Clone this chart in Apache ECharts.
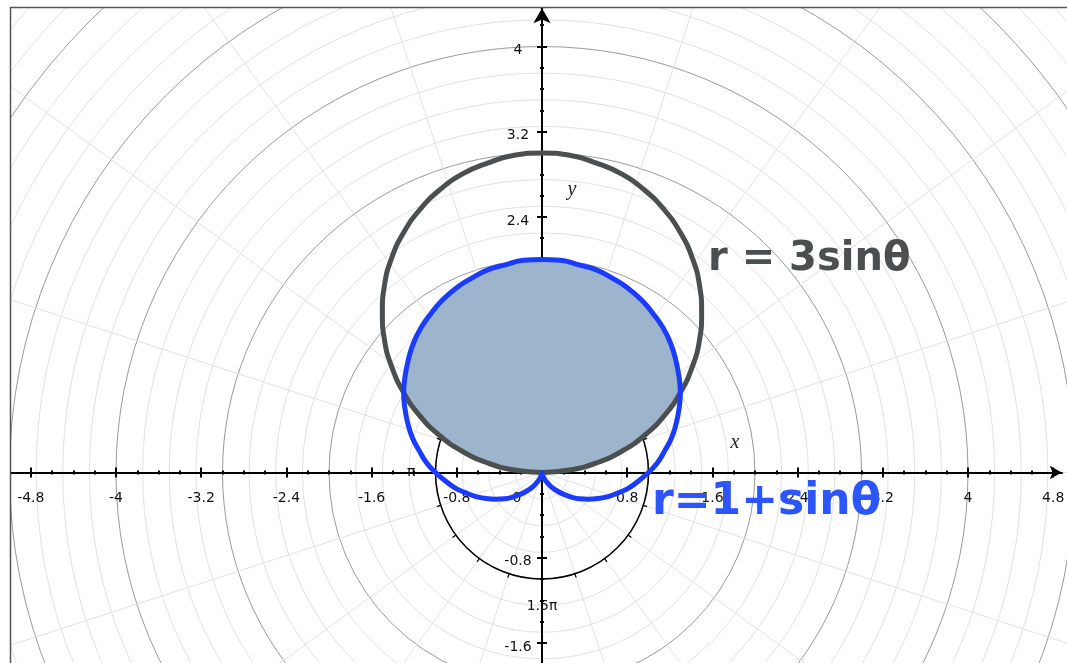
<!DOCTYPE html>
<html>
<head>
<meta charset="utf-8">
<script src="https://cdn.jsdelivr.net/npm/echarts@6/dist/echarts.min.js"></script>
<style>
    html, body { margin: 0; padding: 0; background: #fff; }
    #main { width: 1067px; height: 663px; }
</style>
</head>
<body>
<div id="main"></div>
<script>
// polar angle samples (degrees), every 5
var angles = [0, 5, 10, 15, 20, 25, 30, 35, 40, 45, 50, 55, 60, 65, 70, 75, 80, 85, 90,
    95, 100, 105, 110, 115, 120, 125, 130, 135, 140, 145, 150, 155, 160, 165, 170, 175, 180,
    185, 190, 195, 200, 205, 210, 215, 220, 225, 230, 235, 240, 245, 250, 255, 260, 265, 270,
    275, 280, 285, 290, 295, 300, 305, 310, 315, 320, 325, 330, 335, 340, 345, 350, 355, 360];
// r = 3sin(theta), 0..180
var circleR = [0, 0.26, 0.52, 0.78, 1.03, 1.27, 1.50, 1.72, 1.93, 2.12, 2.30, 2.46, 2.60, 2.72, 2.82, 2.90, 2.95, 2.99, 3.00,
    2.99, 2.95, 2.90, 2.82, 2.72, 2.60, 2.46, 2.30, 2.12, 1.93, 1.72, 1.50, 1.27, 1.03, 0.78, 0.52, 0.26, 0];
// r = 1 + sin(theta), 0..360
var cardioidR = [1.00, 1.09, 1.17, 1.26, 1.34, 1.42, 1.50, 1.57, 1.64, 1.71, 1.77, 1.82, 1.87, 1.91, 1.94, 1.97, 1.98, 2.00, 2.00,
    2.00, 1.98, 1.97, 1.94, 1.91, 1.87, 1.82, 1.77, 1.71, 1.64, 1.57, 1.50, 1.42, 1.34, 1.26, 1.17, 1.09, 1.00,
    0.91, 0.83, 0.74, 0.66, 0.58, 0.50, 0.43, 0.36, 0.29, 0.23, 0.18, 0.13, 0.09, 0.06, 0.03, 0.015, 0.004, 0,
    0.004, 0.015, 0.03, 0.06, 0.09, 0.13, 0.18, 0.23, 0.29, 0.36, 0.43, 0.50, 0.58, 0.66, 0.74, 0.83, 0.91, 1.00];
// shaded region (inside both curves), 0..180
var shadedR = [0, 0.26, 0.52, 0.78, 1.03, 1.27, 1.50, 1.57, 1.64, 1.71, 1.77, 1.82, 1.87, 1.91, 1.94, 1.97, 1.98, 2.00, 2.00,
    2.00, 1.98, 1.97, 1.94, 1.91, 1.87, 1.82, 1.77, 1.71, 1.64, 1.57, 1.50, 1.27, 1.03, 0.78, 0.52, 0.26, 0];

// axis ticks / labels
var xLabels = [-4.8, -4, -3.2, -2.4, -1.6, -0.8, 0, 0.8, 1.6, 2.4, 3.2, 4, 4.8];
var yLabels = [-1.6, -0.8, 0.8, 1.6, 2.4, 3.2, 4];
var angleMarks = [90, 180, 270];
var angleNames = ['0.5π', 'π', '1.5π'];

// layout
var s = 106.5;          // px per unit
var ox = 542, oy = 472.5;
var xMin = -5.6, xMax = 4.88, yMin = -2.4, yMax = 4.36;

var chartDom = document.getElementById('main');
var myChart = echarts.init(chartDom);

function pairs(rs) {
    return rs.map(function (r, i) { return [r, angles[i]]; });
}
function fmt(v) {
    return String(+(+v).toFixed(1));
}
function inList(list, v) {
    return list.some(function (t) { return Math.abs(t - v) < 1e-6; });
}

var labelText = { color: '#111', fontSize: 14, fontFamily: 'DejaVu Sans' };

// grid 0 carries the x axis on its bottom edge, grid 1 the y axis on its left edge
function xAxisDef(inside) {
    return {
        type: 'value', gridIndex: 0, position: 'bottom',
        min: xMin, max: xMax, interval: 0.8, z: 1,
        axisLine: {
            onZero: false,
            lineStyle: { color: '#000', width: 2 },
            symbol: inside ? 'none' : ['none', 'arrow'],
            symbolSize: [10, 12],
            symbolOffset: [0, 0]
        },
        axisTick: { show: true, inside: inside, length: 5, customValues: xLabels, lineStyle: { color: '#000', width: 2 } },
        minorTick: { show: true, splitNumber: 4, length: 2, lineStyle: { color: '#000', width: 2 } },
        splitLine: { show: false },
        axisLabel: {
            show: !inside,
            margin: 19,
            color: labelText.color, fontSize: labelText.fontSize, fontFamily: labelText.fontFamily,
            formatter: function (v) {
                if (!inList(xLabels, v)) return '';
                if (Math.abs(v) < 1e-9) return '{o|0}';
                return fmt(v);
            },
            rich: {
                // the origin label sits left of the y axis
                o: Object.assign({ padding: [0, 50, 0, 0] }, labelText)
            }
        }
    };
}

function yAxisDef(inside) {
    return {
        type: 'value', gridIndex: 1, position: 'left',
        min: yMin, max: yMax, interval: 0.8, z: 1,
        axisLine: {
            onZero: false,
            lineStyle: { color: '#000', width: 2 },
            symbol: inside ? 'none' : ['none', 'arrow'],
            symbolSize: [13, 15],
            symbolOffset: [0, 0]
        },
        axisTick: { show: true, inside: inside, length: 5, customValues: yLabels, lineStyle: { color: '#000', width: 2 } },
        minorTick: { show: true, splitNumber: 4, length: 2, lineStyle: { color: '#000', width: 2 } },
        splitLine: { show: false },
        axisLabel: {
            show: !inside,
            margin: 24,
            align: 'center',
            color: labelText.color, fontSize: labelText.fontSize, fontFamily: labelText.fontFamily,
            formatter: function (v) { return inList(yLabels, v) ? '{v|' + fmt(v) + '}' : ''; },
            rich: {
                v: Object.assign({ padding: [8, 0, 0, 0] }, labelText)
            }
        }
    };
}

var hiddenAxis = { type: 'value', min: 0, max: 1, show: false };

var option = {
    animation: false,
    backgroundColor: '#fff',
    grid: [{
        left: ox + xMin * s,
        width: (xMax - xMin) * s,
        top: oy - 100,
        height: 100,
        outerBoundsMode: 'none'
    }, {
        left: ox,
        width: 100,
        top: oy - yMax * s,
        height: (yMax - yMin) * s,
        outerBoundsMode: 'none'
    }],
    xAxis: [xAxisDef(false), xAxisDef(true), Object.assign({ gridIndex: 1 }, hiddenAxis)],
    yAxis: [Object.assign({ gridIndex: 0 }, hiddenAxis), yAxisDef(false), yAxisDef(true)],
    polar: [
        { center: [ox, oy], radius: 7 * s },
        { center: [ox, oy], radius: 1 * s }
    ],
    angleAxis: [{
        polarIndex: 0, type: 'value', min: 0, max: 360, interval: 18,
        startAngle: 0, clockwise: false, z: 0,
        axisLine: { show: false }, axisTick: { show: false }, axisLabel: { show: false },
        splitLine: { show: true, lineStyle: { color: '#e2e2e2', width: 1 } }
    }, {
        polarIndex: 1, type: 'value', min: 0, max: 360, interval: 18,
        startAngle: 0, clockwise: false, z: 1,
        axisLine: { show: true, lineStyle: { color: '#000', width: 1.5 } },
        axisTick: { show: true, length: 4, lineStyle: { color: '#000', width: 1.2 } },
        axisLabel: {
            show: true, margin: 20,
            color: labelText.color, fontSize: labelText.fontSize, fontFamily: labelText.fontFamily,
            formatter: function (v) {
                var k = angleMarks.indexOf(Math.round(v));
                return k < 0 ? '' : angleNames[k];
            }
        },
        splitLine: { show: false }
    }],
    radiusAxis: [{
        polarIndex: 0, type: 'value', min: 0, max: 7, interval: 0.25, z: 0,
        axisLine: { show: false }, axisTick: { show: false }, axisLabel: { show: false },
        splitLine: { show: true, lineStyle: { color: ['#9a9a9a', '#e2e2e2', '#e2e2e2', '#e2e2e2'], width: 1 } }
    }, {
        polarIndex: 1, type: 'value', min: 0, max: 1,
        axisLine: { show: false }, axisTick: { show: false }, axisLabel: { show: false },
        splitLine: { show: false }
    }],
    series: [{
        name: 'shaded',
        type: 'line', coordinateSystem: 'polar', polarIndex: 0,
        data: pairs(shadedR),
        smooth: true, symbol: 'none', silent: true, z: 10,
        lineStyle: { color: '#ffffff', width: 2 },
        areaStyle: { color: '#9db5cc', opacity: 1 }
    }, {
        name: 'r = 3sinθ',
        type: 'line', coordinateSystem: 'polar', polarIndex: 0,
        data: pairs(circleR),
        smooth: true, symbol: 'none', silent: true, z: 11,
        lineStyle: { color: '#4b4f4f', width: 5 }
    }, {
        name: 'r = 1+sinθ',
        type: 'line', coordinateSystem: 'polar', polarIndex: 0,
        data: pairs(cardioidR),
        smooth: true, symbol: 'none', silent: true, z: 12,
        lineStyle: { color: '#1b3cff', width: 5 }
    }],
    graphic: [
        // margins outside the frame
        { type: 'rect', z: 100, shape: { x: 0, y: 0, width: 10, height: 663 }, style: { fill: '#fff' } },
        { type: 'rect', z: 100, shape: { x: 0, y: 0, width: 1067, height: 7 }, style: { fill: '#fff' } },
        { type: 'line', z: 101, shape: { x1: 10, y1: 7.5, x2: 1067, y2: 7.5 }, style: { stroke: '#555', lineWidth: 1.5 } },
        { type: 'line', z: 101, shape: { x1: 10.5, y1: 7, x2: 10.5, y2: 663 }, style: { stroke: '#555', lineWidth: 1.5 } },
        // axis names
        { type: 'text', z: 5, x: 572, y: 190, style: { text: 'y', fill: '#222', font: 'italic 20px "Liberation Serif"', align: 'center', verticalAlign: 'middle' } },
        { type: 'text', z: 5, x: 735, y: 443, style: { text: 'x', fill: '#222', font: 'italic 20px "Liberation Serif"', align: 'center', verticalAlign: 'middle' } },
        // handwritten notes
        { type: 'text', z: 20, x: 708, y: 260, style: { text: 'r = 3sinθ', fill: '#4b4f4f', font: 'bold 40px "DejaVu Sans"', align: 'left', verticalAlign: 'middle' } },
        { type: 'text', z: 20, x: 652, y: 503, style: { text: 'r=1+sinθ', fill: '#2a55ff', font: 'bold 44px "DejaVu Sans"', align: 'left', verticalAlign: 'middle' } }
    ]
};

option && myChart.setOption(option);
</script>
</body>
</html>
